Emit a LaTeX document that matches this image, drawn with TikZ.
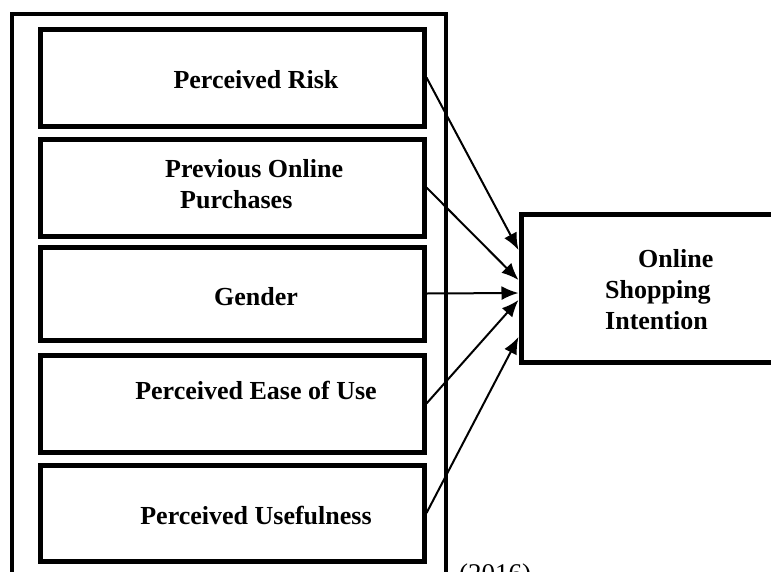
\documentclass[tikz,border=0pt]{standalone}
\usepackage{fontspec}
\setmainfont{Liberation Serif}
\usetikzlibrary{arrows.meta}
\tikzset{
  inbox/.style={draw, line width=5pt, rectangle, inner sep=0pt, minimum width=384pt},
  framebox/.style={draw, line width=4pt, rectangle, inner sep=0pt},
  lbl/.style={font=\fontsize{26}{31}\selectfont\bfseries, inner sep=0pt},
  arr/.style={line width=2pt, -{Latex[length=17pt,width=14pt]}}
}
\begin{document}
\begin{tikzpicture}[x=1pt,y=-1pt]
\useasboundingbox (0,0) rectangle (771,571);
\fill[white] (0,0) rectangle (771,571);
\clip (0,0) rectangle (771,571);
% outer frame
\node[framebox, minimum width=434pt, minimum height=590pt] (frame) at (229,309) {};
% inner boxes
\node[inbox, minimum height=97pt] (risk) at (232,77.5) {};
\node[inbox, minimum height=97pt] (prev) at (232,187.5) {};
\node[inbox, minimum height=93pt] (gen) at (232,293.5) {};
\node[inbox, minimum height=97pt] (ease) at (232,403.5) {};
\node[inbox, minimum height=96pt] (use) at (232,513) {};
% target
\node[draw, line width=5pt, rectangle, inner sep=0pt, minimum width=280pt, minimum height=148pt] (osi) at (661,288) {};
% labels
\node[lbl] (trisk) at (256,80) {Perceived Risk};
\node[lbl, anchor=west, align=left] (tprev) at (165,184) {Previous Online\\\hspace{15pt}Purchases};
\node[lbl] (tgen) at (256,297) {Gender};
\node[lbl] (tease) at (256,390) {Perceived Ease of Use};
\node[lbl] (tuse) at (256,515) {Perceived Usefulness};
\node[lbl, anchor=west, align=left] (tosi) at (605,290) {\hspace{33pt}Online\\Shopping\\Intention};
\node[font=\fontsize{27}{31}\selectfont, inner sep=0pt, anchor=base west] (yr) at (459,582) {(2016)};
% arrows
\draw[arr] (risk.east) -- ([yshift=38pt]osi.west);
\draw[arr] (prev.east) -- ([yshift=8pt]osi.west);
\draw[arr] (gen.east) -- ([yshift=-5pt]osi.west);
\draw[arr] (ease.east) -- ([yshift=-12pt]osi.west);
\draw[arr] (use.east) -- ([yshift=-49pt]osi.west);
\end{tikzpicture}
\end{document}
